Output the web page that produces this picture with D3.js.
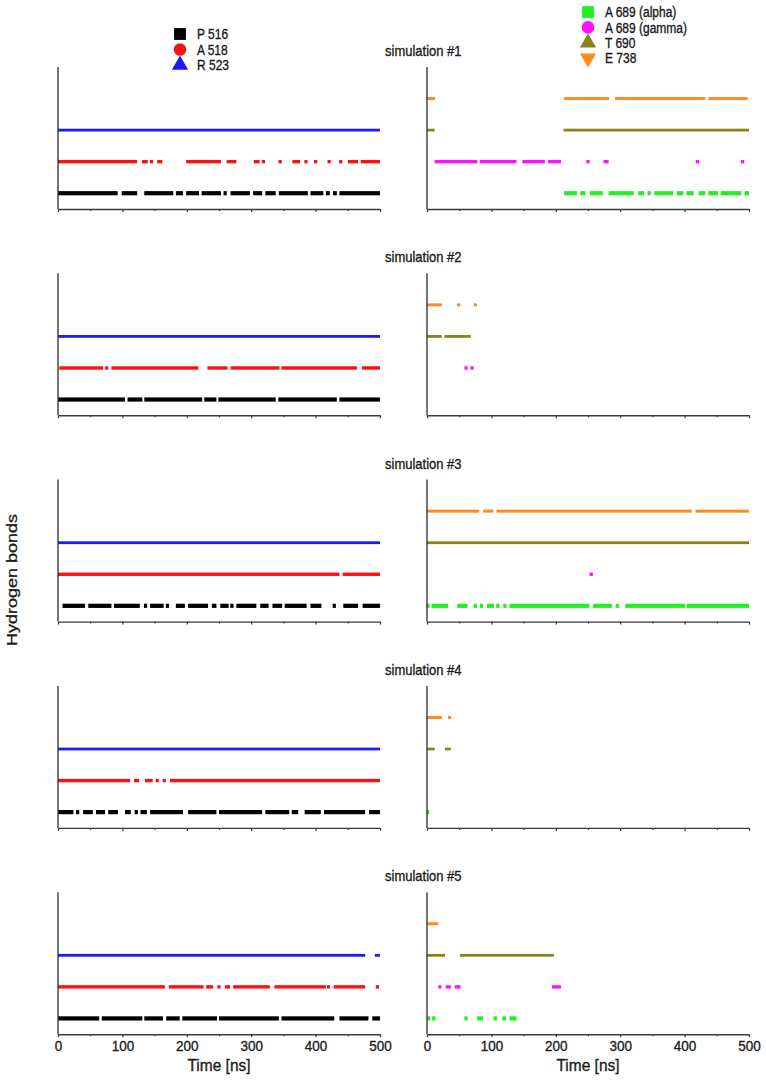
<!DOCTYPE html>
<html>
<head>
<meta charset="utf-8">
<script src="https://cdn.jsdelivr.net/npm/d3@7"></script>
<style>
  html, body { margin: 0; padding: 0; background: #fff; }
  svg { display: block; }
  text { font-family: "Liberation Sans", Arial, sans-serif; fill: #1a1a1a; stroke: #1a1a1a; stroke-width: 0.3px; }
</style>
</head>
<body>
<svg id="chart" width="766" height="1080"></svg>
<script>
// ---------------- DATA ----------------
const simulations = ["simulation #1", "simulation #2", "simulation #3", "simulation #4", "simulation #5"];
const leftSeriesNames = ["P 516", "A 518", "R 523"];
const rightSeriesNames = ["A 689 (alpha)", "A 689 (gamma)", "T 690", "E 738"];
const xTicks = [0, 100, 200, 300, 400, 500];
const xMinorTicks = [50, 150, 250, 350, 450];
const xLabel = "Time [ns]";
const yLabel = "Hydrogen bonds";

// Intervals [start ns, end ns] during which each hydrogen bond exists, one list per simulation
const P516 = [
  [[0,92.6],[98.9,123],[134,179],[183,194],[199,219],[223,253],[257,262],[268,298],[303,317],[322,338],[343,388],[392,412],[416,422],[427,433],[437,500]],
  [[0,104],[108,131],[134,224],[227,246],[249,338],[342,433],[437,500]],
  [[7,42],[47,83],[87,127],[136,136],[143,164],[170,170],[183,197],[202,233],[239,246],[252,265],[270,270],[277,308],[314,327],[333,348],[352,386],[392,409],[429,429],[443,466],[473,500]],
  [[0,24],[28,33],[39,54],[59,73],[78,93],[104,113],[120,123],[128,138],[143,194],[202,246],[250,317],[322,359],[363,373],[383,408],[413,477],[483,500]],
  [[0,64],[68,131],[134,163],[168,189],[193,247],[250,343],[347,429],[437,482],[488,500]]
];
const A518 = [
  [[0,123],[133,133],[137,137],[145,145],[154,162],[199,253],[262,277],[304,313],[319,319],[345,345],[364,376],[385,385],[400,400],[421,421],[439,439],[450,466],[470,500]],
  [[2,70],[75.6,75.6],[83,218],[232,263],[268,344],[347,464],[472,500]],
  [[0,437],[442,500]],
  [[0,112],[118,126],[135,147],[154,154],[165,165],[174,500]],
  [[0,166],[172,226],[230,241],[250,250],[259,267],[272,329],[336,416],[420,420],[428,477],[496,496]]
];
const R523 = [
  [[0,500]],
  [[0,500]],
  [[0,500]],
  [[0,500]],
  [[0,477],[492,500]]
];
const A689alpha = [
  [[213,233],[238,246],[253,273],[282,321],[328,337],[343,347],[353,382],[388,398],[403,414],[422,432],[437,452],[456,488],[493,500]],
  [],
  [[0,3],[7,33],[47,63],[73,77],[82,87],[93,104],[109,111],[119,123],[128,252],[258,287],[293,298],[308,401],[403,500]],
  [[0,2]],
  [[0,5],[9,12],[60.6,60.6],[78,87],[106,106],[117,123],[128,139]]
];
const A689gamma = [
  [[12,78],[82,139],[148,183],[188,208],[250,250],[274,282],[420,420],[490,490]],
  [[60.6,60.6],[70,70]],
  [[255,255]],
  [],
  [[20,20],[29,37],[43,52],[194,208]]
];
const T690 = [
  [[0,12],[212,500]],
  [[0,23],[27,68]],
  [[0,500]],
  [[0,12],[28,37]],
  [[0,28],[51,197]]
];
const E738 = [
  [[0,12.4],[213,283],[292,432],[437,498]],
  [[0,23],[49,49],[75,75]],
  [[0,81],[87,103],[108,411],[417,500]],
  [[0,23],[35,35]],
  [[0,17.6]]
];

// ---------------- STYLE / LAYOUT ----------------
const seriesStyle = {
  "P 516":         { data: P516,      row: 1, color: "#000000", symbol: d3.symbolSquare,   h: 4.2 },
  "A 518":         { data: A518,      row: 2, color: "#ff1010", symbol: d3.symbolCircle,   h: 3.4 },
  "R 523":         { data: R523,      row: 3, color: "#1a1aff", symbol: d3.symbolTriangle, h: 2.8 },
  "A 689 (alpha)": { data: A689alpha, row: 1, color: "#22f022", symbol: d3.symbolSquare,   h: 4.2 },
  "A 689 (gamma)": { data: A689gamma, row: 2, color: "#ff10ff", symbol: d3.symbolCircle,   h: 3.4 },
  "T 690":         { data: T690,      row: 3, color: "#85851a", symbol: d3.symbolTriangle, h: 2.8 },
  "E 738":         { data: E738,      row: 4, color: "#ff8a1e", symbol: "down",            h: 3.0 }
};

const svg = d3.select("#chart");
const panelW = 322, panelH = 142;
const leftX = 58, rightX = 427;
const panelTop0 = 67, panelStep = 206.3;
const minW = 3.2;

const x = d3.scaleLinear().domain([0, 500]).range([0, panelW]);
const y = d3.scaleLinear().domain([0.5, 5]).range([panelH, 0]);

function drawPanel(g, names, simIndex, showLabels) {
  names.forEach(name => {
    const st = seriesStyle[name];
    const iv = st.data[simIndex];
    g.append("g").selectAll("rect").data(iv).join("rect")
      .attr("x", d => {
        const w = x(d[1]) - x(d[0]);
        return w < minW ? (x(d[0]) + x(d[1])) / 2 - minW / 2 : x(d[0]);
      })
      .attr("width", d => Math.max(x(d[1]) - x(d[0]), minW))
      .attr("y", y(st.row) - st.h / 2)
      .attr("height", st.h)
      .attr("fill", st.color);
  });
  g.append("line")
    .attr("x1", 0).attr("x2", 0).attr("y1", 0).attr("y2", panelH)
    .attr("stroke", "#3a3a3a").attr("stroke-width", 1.4);
  const ax = g.append("g").attr("transform", `translate(0,${panelH})`)
    .call(d3.axisBottom(x).tickValues(xTicks).tickSize(3).tickSizeOuter(0)
      .tickFormat(showLabels ? d3.format("d") : () => ""));
  ax.select(".domain").attr("stroke", "#3a3a3a").attr("stroke-width", 1.4);
  ax.selectAll(".tick line").attr("stroke", "#3a3a3a").attr("stroke-width", 1.2);
  ax.selectAll(".tick text")
    .attr("font-size", 13.5).attr("font-family", "Liberation Sans, Arial, sans-serif")
    .attr("fill", "#1a1a1a").attr("dy", "0.65em")
    .attr("transform", "scale(1,1.15)");
  const mn = g.append("g").attr("transform", `translate(0,${panelH})`)
    .call(d3.axisBottom(x).tickValues(xMinorTicks).tickSize(2).tickFormat(() => ""));
  mn.select(".domain").remove();
  mn.selectAll(".tick line").attr("stroke", "#3a3a3a").attr("stroke-width", 1.2);
  if (showLabels) {
    const ly = panelH + 37;
    g.append("text")
      .attr("x", panelW / 2).attr("y", ly)
      .attr("text-anchor", "middle")
      .attr("font-size", 15.5)
      .attr("transform", `translate(${panelW/2},${ly}) scale(1,1.1) translate(${-panelW/2},${-ly})`)
      .text(xLabel);
  }
}

simulations.forEach((sim, i) => {
  const top = panelTop0 + i * panelStep;
  const gl = svg.append("g").attr("transform", `translate(${leftX},${top})`);
  drawPanel(gl, leftSeriesNames, i, i === simulations.length - 1);
  const gr = svg.append("g").attr("transform", `translate(${rightX},${top})`);
  drawPanel(gr, rightSeriesNames, i, i === simulations.length - 1);
  const ty = top - 11;
  svg.append("text")
    .attr("x", 385).attr("y", ty)
    .attr("font-size", 13)
    .attr("transform", `translate(385,${ty}) scale(1,1.15) translate(-385,${-ty})`)
    .text(sim);
});

svg.append("text")
  .attr("transform", "translate(17,580) rotate(-90) scale(1.2,1)")
  .attr("text-anchor", "middle")
  .attr("font-size", 15)
  .text(yLabel);

function legend(names, lx, ly0, step) {
  names.forEach((name, k) => {
    const st = seriesStyle[name];
    const cy = ly0 + k * step;
    let path;
    if (st.symbol === "down") {
      path = d3.symbol().type(d3.symbolTriangle).size(115)();
    } else {
      path = d3.symbol().type(st.symbol).size(st.symbol === d3.symbolSquare ? 140 : (st.symbol === d3.symbolCircle ? 125 : 115))();
    }
    svg.append("path").attr("d", path)
      .attr("transform", `translate(${lx},${cy})` + (st.symbol === "down" ? " rotate(180)" : ""))
      .attr("fill", st.color);
    svg.append("text")
      .attr("x", lx + 17).attr("y", cy + 4.5)
      .attr("font-size", 12)
      .attr("transform", `translate(${lx+17},${cy}) scale(1,1.15) translate(${-(lx+17)},${-cy})`)
      .text(name);
  });
}
legend(leftSeriesNames, 180, 34, 15.5);
legend(rightSeriesNames, 588, 12, 15.4);
</script>
</body>
</html>
